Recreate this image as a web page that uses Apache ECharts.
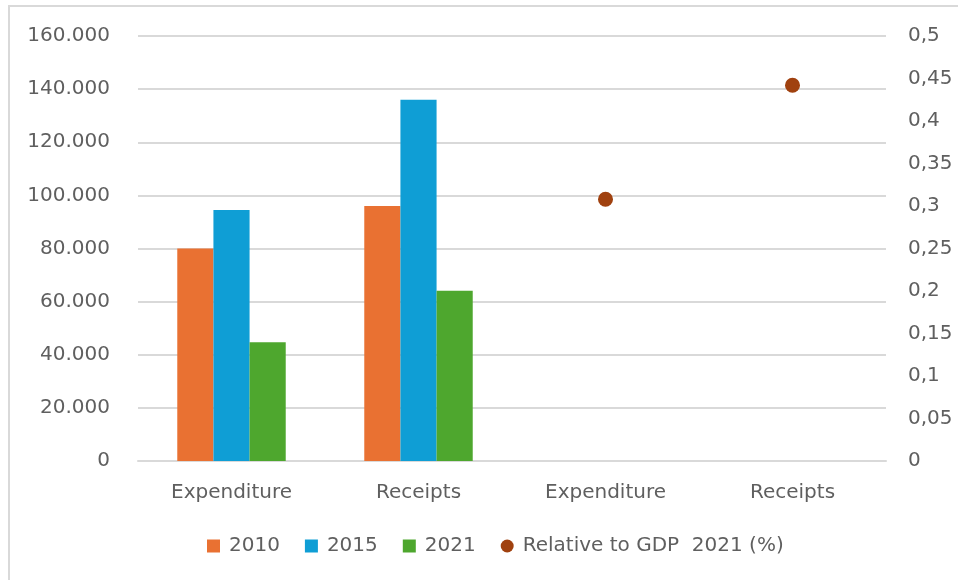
<!DOCTYPE html>
<html>
<head>
<meta charset="utf-8">
<script src="https://cdn.jsdelivr.net/npm/echarts@6/dist/echarts.min.js"></script>
<style>
  html, body { margin: 0; padding: 0; background: #ffffff; }
  #chart { width: 958px; height: 580px; }
</style>
</head>
<body>
<div id="chart"></div>
<script>
// Categories along the shared x axis
const categories = ['Expenditure', 'Receipts', 'Expenditure', 'Receipts'];

// Absolute amounts (left axis); '-' leaves a slot empty
const values2010 = [80000, 96000, '-', '-'];
const values2015 = [94500, 136000, '-', '-'];
const values2021 = [44700, 64100, '-', '-'];

// Share of GDP in 2021 (right axis)
const gdpShare2021 = ['-', '-', 0.308, 0.442];

const seriesNames = ['2010', '2015', '2021', 'Relative to GDP  2021 (%)'];

const FONT = '"DejaVu Sans", "Liberation Sans", sans-serif';
const TEXT = '#5f5f5f';
const GRID = '#d9d9d9';
const FS = 20;

const chart = echarts.init(document.getElementById('chart'), null, { renderer: 'canvas' });

const fmtThousands = v => {
  const s = Math.round(v).toString();
  return s.replace(/\B(?=(\d{3})+(?!\d))/g, '.');
};
const fmtComma = v => {
  const r = Math.round(v * 100) / 100;
  return r.toString().replace('.', ',');
};

chart.setOption({
  backgroundColor: '#ffffff',
  animation: false,
  textStyle: { fontFamily: FONT },
  graphic: [{
    type: 'rect',
    shape: { x: 9, y: 6, width: 1000, height: 1000 },
    style: { fill: 'none', stroke: GRID, lineWidth: 2 },
    silent: true
  }],
  grid: { left: 138, right: 72, top: 36, bottom: 119 },
  legend: {
    bottom: 19,
    left: 202,
    itemWidth: 13,
    itemHeight: 13,
    itemGap: 25,
    textStyle: { color: TEXT, fontSize: FS, fontFamily: FONT, padding: [0, 0, 0, 4] },
    data: [
      { name: seriesNames[0], icon: 'rect' },
      { name: seriesNames[1], icon: 'rect' },
      { name: seriesNames[2], icon: 'rect' },
      { name: seriesNames[3], icon: 'circle' }
    ]
  },
  xAxis: {
    type: 'category',
    data: categories,
    axisLine: { lineStyle: { color: GRID, width: 2 } },
    axisTick: { show: false },
    axisLabel: { color: TEXT, fontSize: FS, margin: 22, fontFamily: FONT }
  },
  yAxis: [{
    type: 'value',
    min: 0,
    max: 160000,
    interval: 20000,
    axisLine: { show: false },
    axisTick: { show: false },
    splitLine: { lineStyle: { color: GRID, width: 2 } },
    axisLabel: { color: TEXT, fontSize: FS, margin: 28, fontFamily: FONT, formatter: fmtThousands }
  }, {
    type: 'value',
    min: 0,
    max: 0.5,
    interval: 0.05,
    axisLine: { show: false },
    axisTick: { show: false },
    splitLine: { show: false },
    axisLabel: { color: TEXT, fontSize: FS, margin: 22, fontFamily: FONT, formatter: fmtComma }
  }],
  series: [{
    name: seriesNames[0],
    type: 'bar',
    data: values2010,
    barGap: '0%',
    barCategoryGap: '42%',
    itemStyle: { color: '#E97132' }
  }, {
    name: seriesNames[1],
    type: 'bar',
    data: values2015,
    itemStyle: { color: '#0F9ED5' }
  }, {
    name: seriesNames[2],
    type: 'bar',
    data: values2021,
    itemStyle: { color: '#4EA72E' }
  }, {
    name: seriesNames[3],
    type: 'scatter',
    yAxisIndex: 1,
    data: gdpShare2021,
    symbol: 'circle',
    symbolSize: 15,
    itemStyle: { color: '#A0410F', opacity: 1 }
  }]
});
</script>
</body>
</html>
